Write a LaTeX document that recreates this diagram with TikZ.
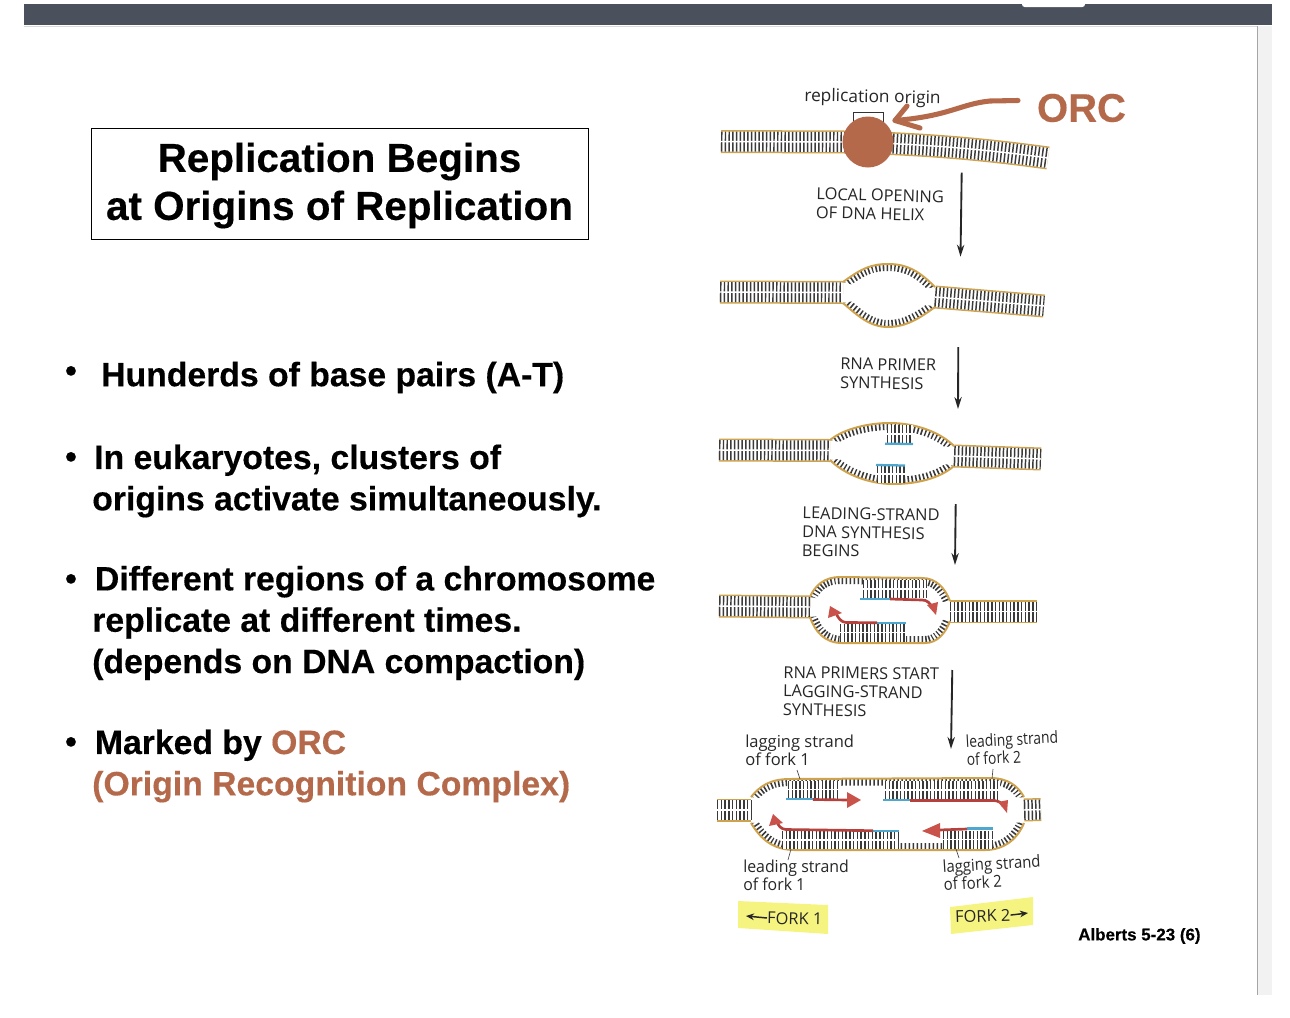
\documentclass[tikz,border=0pt]{standalone}
\usepackage{fontspec}
\setmainfont{Liberation Sans}[BoldFeatures={FakeBold=0.35}]
\newfontfamily\figfont{Open Sans}
\usetikzlibrary{arrows.meta}
\definecolor{orcbrown}{HTML}{B5694B}
\definecolor{helixgold}{HTML}{CFA24E}
\definecolor{rungdark}{HTML}{3A3A3A}
\definecolor{primerblue}{HTML}{4FA6CF}
\definecolor{newred}{HTML}{B5403C}
\definecolor{tipred}{HTML}{C9534A}
\definecolor{forkyellow}{HTML}{F6F481}
\definecolor{slidebar}{HTML}{4A505C}
% closed double helix piece
\newcommand{\duplexband}[1]{%
    \draw[helixgold, line width=23*.75pt] #1;
    \draw[white, line width=20*.75pt] #1;
    \draw[rungs, line width=20*.75pt] #1;
    \draw[white, line width=1.1pt] #1;}
% single strand of a bubble: path, then the inside point
\newcommand{\openstrand}[2]{%
    \begin{scope}
        \clip #1 -- #2 -- cycle;
        \draw[bubblerungs] #1;
    \end{scope}
    \draw[helixgold, line width=1.5pt] #1;}
\newcommand{\pairing}[2]{%
    \draw[white, line width=#1*.75pt] #2;
    \draw[rungs, line width=#1*.75pt] #2;
    \draw[white, line width=1pt] #2;}
\begin{document}
\begin{tikzpicture}[
        x=.75pt, y=-.75pt,
        rungs/.style={rungdark, dash pattern=on 1.1pt off 1.7pt},
        bubblerungs/.style={rungdark, line width=14*.75pt, dash pattern=on 1.2pt off 1.8pt},
        headbox/.style={draw, line width=.6pt, inner sep=0pt, minimum width=497*.75pt, minimum height=111*.75pt},
        headline/.style={font=\fontsize{30.3}{36}\bfseries\selectfont, align=center, inner sep=0pt},
        bullettext/.style={font=\fontsize{25.3}{31}\bfseries\selectfont, align=left, anchor=west, inner sep=0pt},
        bulletdot/.style={font=\fontsize{25}{31}\bfseries\selectfont, inner sep=0pt},
        figlabel/.style={font=\figfont\fontsize{12.3}{14}\selectfont, align=left, anchor=west, inner sep=0pt, text=black!85},
        smalllabel/.style={font=\figfont\fontsize{12.4}{13.2}\selectfont, align=left, anchor=west, inner sep=0pt, text=black!85},
        steparrow/.style={-{Stealth[length=9pt,width=5.5pt]}, black!85, line width=1.4pt},
        forkarrow/.style={-{Stealth[length=6pt,width=5pt]}, black!85, line width=1.1pt},
        leaderline/.style={black!70, line width=.5pt},
        blueprimer/.style={primerblue, line width=1.7pt},
        redstrand/.style={newred, line width=2pt},
        redtip/.style={fill=tipred},
    ]
    \useasboundingbox (0,0) rectangle (1290,1018);
    % slide frame
    \fill[slidebar] (24,4) rectangle (1272,25);
    \fill[white, rounded corners=2pt] (1022,2) rectangle (1085,7);
    \fill[black!15] (24,26) rectangle (1257,27);
    \fill[black!5] (1257,26) rectangle (1272,995);
    \draw[black!35, line width=.75pt] (1257,26) -- (1257,995);

    % left column
    \node[headbox](titlebox) at (339.5,183.5) {};
    \node[headline](title) at (339.5,185.5) {Replication Begins\\at Origins of Replication};
    \node[bulletdot](dota) at (71,374) {•};
    \node[bullettext](texta) at (101,377.5) {Hunderds of base pairs (A-T)};
    \node[bulletdot](dotb) at (71,460) {•};
    \node[bullettext](textb) at (92,481) {\hspace*{1.5pt}In eukaryotes, clusters of\\origins activate simultaneously.};
    \node[bulletdot](dotc) at (71,582) {•};
    \node[bullettext](textc) at (92,623) {\hspace*{2pt}Different regions of a chromosome\\replicate at different times.\\(depends on DNA compaction)};
    \node[bulletdot](dotd) at (71,745) {•};
    \node[bullettext](textd) at (92,766) {\hspace*{2pt}Marked by \textcolor{orcbrown}{ORC}\\\textcolor{orcbrown}{(Origin Recognition Complex)}};

    % row 1
    \duplexband{(721,141.5) -- (845,142) .. controls (930,144) and (990,150) .. (1048,158)}
    \draw[black!80, line width=.6pt] (853,130) -- (853,112) -- (883,112) -- (883,130);
    \node[circle, fill=orcbrown, minimum size=51*.75pt, inner sep=0pt](orc) at (868,142) {};
    \node[font=\figfont\fontsize{13}{14}\selectfont, text=black!85, rotate=-1, inner sep=0pt](originlabel) at (872.5,98) {replication origin};
    \node[font=\fontsize{30}{32}\bfseries\selectfont, text=orcbrown, inner sep=0pt](orclabel) at (1081.5,108) {ORC};
    \coordinate (orcstart) at (1018,100.5);
    \coordinate (orctip) at (895,120.5);
    \coordinate (orcbarbup) at (907,106);
    \coordinate (orcbarbdown) at (920,128);
    \draw[orcbrown, line width=3.8pt, line cap=round, line join=round] (orcstart) -- (990,101) .. controls (960,104) and (950,116) .. (orctip);
    \draw[orcbrown, line width=3.8pt, line cap=round, line join=round] (orcbarbup) -- (orctip) -- (orcbarbdown);

    \node[figlabel, rotate=-1.5](stepa) at (816,203) {LOCAL OPENING\\OF DNA HELIX};
    \coordinate (stepatop) at (961.7,172.7);
    \coordinate (stepabot) at (960.5,256.7);
    \draw[steparrow] (stepatop) -- (stepabot);

    % row 2
    \duplexband{(720,292) -- (843,292.5)}
    \duplexband{(935,297) -- (1044,306)}
    \openstrand{(843,282) .. controls (862,268) and (872,264) .. (888,264) .. controls (908,264) and (920,272) .. (935,287)}{(889,295)}
    \openstrand{(843,303) .. controls (858,316) and (870,327) .. (888,327) .. controls (906,327) and (920,318) .. (935,307)}{(889,295)}

    \node[figlabel, rotate=-1](stepb) at (840,373) {RNA PRIMER\\SYNTHESIS};
    \coordinate (stepbtop) at (958.3,347);
    \coordinate (stepbbot) at (958,409);
    \draw[steparrow] (stepbtop) -- (stepbbot);

    % row 3
    \duplexband{(719,450) -- (830,450.5)}
    \duplexband{(954,456) -- (1041,459)}
    \openstrand{(830,440) .. controls (845,428) and (870,423) .. (890,423) .. controls (915,423) and (940,432) .. (954,446)}{(892,453)}
    \openstrand{(830,460) .. controls (845,475) and (870,484) .. (893,484) .. controls (918,484) and (940,478) .. (954,466)}{(892,453)}
    \pairing{18}{(887,434) -- (913,434)}
    \pairing{17}{(877,474) -- (905,474)}
    \draw[blueprimer] (885,443.7) -- (913,444);
    \draw[blueprimer] (876,465) -- (905,465.5);

    \node[figlabel, rotate=-1](stepc) at (802,531.5) {LEADING-STRAND\\DNA SYNTHESIS\\BEGINS};
    \coordinate (stepctop) at (955.7,504);
    \coordinate (stepcbot) at (955,565);
    \draw[steparrow] (stepctop) -- (stepcbot);

    % row 4
    \duplexband{(719,606) -- (810,607)}
    \duplexband{(950,611.5) -- (1037,611.5)}
    \openstrand{(810,597) .. controls (815,585) and (825,577) .. (840,577) -- (922,578) .. controls (936,578) and (945,588) .. (950,601)}{(880,610)}
    \openstrand{(810,617) .. controls (815,632) and (825,643) .. (842,643) -- (925,643) .. controls (938,643) and (946,632) .. (950,621)}{(880,610)}
    \pairing{18}{(863,589) -- (927,589)}
    \pairing{18}{(840,632.5) -- (906,632.5)}
    \draw[blueprimer] (860,598.7) -- (890,598.7);
    \draw[redstrand] (890,599) -- (922,600) .. controls (927,600) and (930,603) .. (932,607);
    \fill[redtip] (927,605) -- (938,602) -- (936,615) -- cycle;
    \draw[blueprimer] (877,622.7) -- (906,622.7);
    \draw[redstrand] (877,622.7) -- (846,622.5) .. controls (841,622) and (838,618) .. (836,613);
    \fill[redtip] (830,606) -- (828,618) -- (842,613) -- cycle;

    \node[figlabel, rotate=-.7](stepd) at (783,691) {RNA PRIMERS START\\LAGGING-STRAND\\SYNTHESIS};
    \coordinate (stepdtop) at (952.3,670);
    \coordinate (stepdbot) at (951,749);
    \draw[steparrow] (stepdtop) -- (stepdbot);

    % row 5
    \duplexband{(717,810) -- (751,810)}
    \duplexband{(1024,810) -- (1041,809.5)}
    \openstrand{(751,797) .. controls (760,786) and (770,779) .. (790,779) -- (990,778) .. controls (1008,778) and (1018,786) .. (1024,797)}{(888,814)}
    \openstrand{(751,823) .. controls (760,838) and (772,850) .. (795,850) -- (985,850) .. controls (1005,850) and (1018,838) .. (1024,823)}{(888,814)}
    \pairing{18}{(788,789.5) -- (839,789.5)}
    \pairing{19}{(885,790) -- (1000,790)}
    \pairing{18}{(782,840) -- (898,840)}
    \pairing{18}{(943,839.5) -- (993,839.5)}
    \draw[blueprimer] (786,798.7) -- (813,798.7);
    \draw[redstrand] (813,799.5) -- (848,800);
    \fill[redtip] (847,792) -- (861,800) -- (847,808) -- cycle;
    \draw[blueprimer] (883,800) -- (910,800);
    \draw[redstrand] (910,800.5) -- (994,800.5) .. controls (999,801) and (1002,803) .. (1003,806);
    \fill[redtip] (998,802) -- (1008,800) -- (1007,813) -- cycle;
    \draw[blueprimer] (873,831) -- (899,831);
    \draw[redstrand] (873,830.7) -- (786,829.5) .. controls (781,829) and (778,826) .. (777,821);
    \fill[redtip] (773,814) -- (769,826) -- (783,823) -- cycle;
    \draw[blueprimer] (967,828.5) -- (993,828.5);
    \draw[redstrand] (967,829) -- (939,830);
    \fill[redtip] (940,823) -- (922,831) -- (940,838) -- cycle;

    % fork labels
    \node[smalllabel](lagone) at (745,750.5) {lagging strand\\of fork 1};
    \node[smalllabel, rotate=3, xscale=.84](leadtwo) at (966,750.5) {leading strand\\of fork 2};
    \node[smalllabel, xscale=.96](leadone) at (743,875.5) {leading strand\\of fork 1};
    \node[smalllabel, rotate=3.5, xscale=.9](lagtwo) at (943,875.5) {lagging strand\\of fork 2};
    \coordinate (lagonetip) at (800,779);
    \coordinate (leadtwotip) at (992,779);
    \coordinate (leadonetip) at (791,849);
    \coordinate (lagtwotip) at (956,849);
    \draw[leaderline] (797,770) -- (lagonetip);
    \draw[leaderline] (993,769) -- (leadtwotip);
    \draw[leaderline] (788,860) -- (leadonetip);
    \draw[leaderline] (959,858) -- (lagtwotip);

    % yellow boxes
    \fill[forkyellow] (738,901) -- (828,905) -- (828,934) -- (738,928) -- cycle;
    \fill[forkyellow] (950,907) -- (1033,897) -- (1033,925) -- (951,934) -- cycle;
    \node[figlabel, rotate=-1](forkone) at (767,918) {FORK 1};
    \node[figlabel, rotate=2](forktwo) at (955,917) {FORK 2};
    \coordinate (forkoneend) at (746,916);
    \coordinate (forktwoend) at (1028,913);
    \draw[forkarrow] (forkone.west) -- (forkoneend);
    \draw[forkarrow] (forktwo.east) -- (forktwoend);

    \node[font=\fontsize{12.7}{15}\bfseries\selectfont, anchor=west, inner sep=0pt](source) at (1078,936) {Alberts 5-23 (6)};
\end{tikzpicture}
\end{document}
